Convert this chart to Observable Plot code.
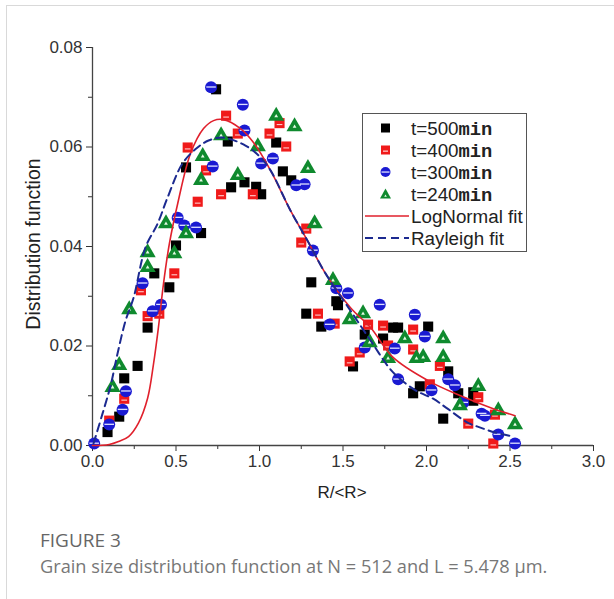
<!DOCTYPE html>
<html><head><meta charset="utf-8">
<script src="https://cdn.jsdelivr.net/npm/d3@7"></script>
<script src="https://cdn.jsdelivr.net/npm/@observablehq/plot@0.6"></script>
<style>
html,body{margin:0;padding:0;background:#fff}
body{width:614px;height:599px;position:relative;overflow:hidden;font-family:"Liberation Sans",Arial,sans-serif}
#frame{position:absolute;left:6px;top:5px;width:640px;height:640px;border-left:1px solid #d9d9d9;border-top:1px solid #d9d9d9}
#chart{position:absolute;left:0;top:0}
#ytitle{position:absolute;left:33px;top:244px;transform:translate(-50%,-50%) rotate(-90deg);font-size:19.5px;color:#222;white-space:nowrap;font-family:"Liberation Sans",Arial,sans-serif}
#xtitle{position:absolute;left:342px;top:493px;transform:translate(-50%,-50%);font-size:17px;color:#222;white-space:nowrap;font-family:"Liberation Sans",Arial,sans-serif}
#legend{position:absolute;left:362px;top:113px;width:165px;height:139px;border:1px solid #555;background:#fff;box-sizing:border-box}
#legend svg{position:absolute;left:0;top:0}
.lt{font-family:"Liberation Sans",Arial,sans-serif;font-size:18.8px;fill:#222}
.mono{font-family:"Liberation Mono","Courier New",monospace;font-weight:bold}
#cap1{position:absolute;left:40px;top:527px;font-family:"Open Sans",sans-serif;font-size:19px;color:#666}
#cap2{position:absolute;left:40px;top:554px;font-family:"Open Sans",sans-serif;font-size:18.2px;color:#777;white-space:nowrap}
</style></head>
<body>
<div id="frame"></div>
<div id="chart"></div>
<div id="ytitle">Distribution function</div>
<div id="xtitle">R/&lt;R&gt;</div>
<div id="legend"></div>
<div id="cap1">FIGURE 3</div>
<div id="cap2">Grain size distribution function at N = 512 and L = 5.478 µm.</div>
<script>
const xTicks = [0, 0.5, 1.0, 1.5, 2.0, 2.5, 3.0];
const xMinor = [0.25, 0.75, 1.25, 1.75, 2.25, 2.75];
const yTicks = [0, 0.02, 0.04, 0.06, 0.08];
const yMinor = [0.01, 0.03, 0.05, 0.07];

const seriesNames = ["t=500", "t=400", "t=300", "t=240"];

const t500 = [[0.09,0.0027],[0.16,0.0058],[0.19,0.0135],[0.27,0.016],[0.33,0.0237],[0.37,0.0346],[0.46,0.0318],[0.50,0.0402],[0.56,0.0559],[0.65,0.0427],[0.74,0.0716],[0.81,0.0611],[0.83,0.0519],[0.91,0.0529],[0.98,0.052],[1.01,0.0505],[1.10,0.0609],[1.14,0.0551],[1.19,0.0533],[1.31,0.0328],[1.46,0.029],[1.47,0.0282],[1.28,0.0265],[1.37,0.0239],[1.56,0.0159],[1.63,0.0223],[1.74,0.0215],[1.80,0.0237],[1.83,0.0237],[2.01,0.0239],[2.13,0.0149],[2.19,0.0105],[1.96,0.0119],[1.92,0.0105],[2.10,0.0054],[2.28,0.0107],[2.28,0.009]];

const t400 = [[0.10,0.005],[0.19,0.0094],[0.29,0.0312],[0.33,0.026],[0.40,0.0265],[0.49,0.0346],[0.57,0.0599],[0.63,0.049],[0.68,0.0553],[0.77,0.0505],[0.80,0.0663],[0.87,0.0627],[0.96,0.0505],[1.06,0.0627],[1.12,0.0648],[1.16,0.0601],[1.25,0.0408],[1.28,0.0436],[1.35,0.0265],[1.45,0.0245],[1.54,0.0169],[1.60,0.0187],[1.65,0.0243],[1.74,0.0241],[1.77,0.0201],[1.92,0.0233],[1.92,0.0193],[2.02,0.0123],[2.08,0.016],[2.25,0.0044],[2.31,0.0097],[2.41,0.0062],[2.40,0.0004]];

const t300 = [[0.01,0.0004],[0.10,0.0042],[0.18,0.0072],[0.20,0.0109],[0.30,0.0326],[0.36,0.027],[0.41,0.0283],[0.51,0.0458],[0.55,0.0442],[0.62,0.0438],[0.71,0.0720],[0.72,0.0561],[0.90,0.0685],[0.91,0.0633],[1.01,0.0567],[1.08,0.0577],[1.22,0.0523],[1.27,0.0525],[1.32,0.0392],[1.42,0.0243],[1.46,0.0316],[1.53,0.0306],[1.63,0.0197],[1.72,0.0283],[1.81,0.0195],[1.83,0.0133],[1.93,0.0263],[1.99,0.0219],[2.03,0.0111],[2.13,0.0133],[2.17,0.0121],[2.22,0.0086],[2.33,0.0064],[2.35,0.006],[2.43,0.0022],[2.53,0.0004]];

const t240 = [[0.12,0.0117],[0.16,0.0161],[0.22,0.0273],[0.33,0.0358],[0.33,0.0388],[0.44,0.0446],[0.49,0.0386],[0.56,0.0426],[0.65,0.0533],[0.66,0.0581],[0.77,0.0623],[0.87,0.0543],[0.99,0.0601],[1.10,0.0662],[1.21,0.0641],[1.29,0.0557],[1.33,0.0446],[1.44,0.0332],[1.54,0.0253],[1.62,0.0265],[1.66,0.0207],[1.77,0.0175],[1.87,0.0215],[1.94,0.0175],[1.98,0.0177],[2.10,0.0215],[2.10,0.0177],[2.20,0.008],[2.31,0.0119],[2.43,0.007],[2.53,0.0042]];

const logNormalFit = [[0,0],[0.10,0.0002],[0.156,0.0008],[0.216,0.0018],[0.275,0.0045],[0.33,0.0095],[0.365,0.0163],[0.395,0.0238],[0.425,0.0325],[0.46,0.0405],[0.51,0.0486],[0.587,0.0587],[0.665,0.0637],[0.725,0.0653],[0.784,0.0655],[0.886,0.0637],[0.964,0.0609],[1.066,0.0553],[1.186,0.0472],[1.287,0.0412],[1.395,0.0346],[1.545,0.0277],[1.665,0.0237],[1.80,0.0177],[2.006,0.0131],[2.204,0.010],[2.40,0.0074],[2.53,0.006]];

const rayleighFit = [[0.006,0.0004],[0.06,0.0064],[0.108,0.012],[0.15,0.0185],[0.198,0.0251],[0.246,0.0297],[0.317,0.0398],[0.39,0.0446],[0.449,0.0498],[0.539,0.0567],[0.629,0.0599],[0.695,0.0613],[0.778,0.0619],[0.916,0.0603],[1.006,0.0579],[1.066,0.0553],[1.186,0.0472],[1.287,0.0412],[1.395,0.0346],[1.545,0.0271],[1.665,0.0211],[1.80,0.0147],[1.934,0.0111],[2.04,0.0094],[2.126,0.0074],[2.246,0.0046],[2.323,0.0036],[2.413,0.0026],[2.52,0.0018]];

const C = {black:"#000000", red:"#f01a1a", blue:"#1a1ad2", green:"#0f8a2e", logn:"#e0202c", ray:"#1c2a90"};

const bar = (wf, hf, dy) => ({draw(ctx, size){const r = Math.sqrt(size/Math.PI); ctx.rect(-r*wf, -r*hf + r*dy, 2*r*wf, 2*r*hf);}});
const X = d => d[0], Y = d => d[1];

const chart = Plot.plot({
  width: 614, height: 510,
  marginLeft: 92, marginRight: 21, marginTop: 47, marginBottom: 65,
  x: {domain: [0, 3]},
  y: {domain: [0, 0.08]},
  style: {fontFamily: '"Liberation Sans", Arial, sans-serif', fontSize: "17px", color: "#333", background: "transparent", overflow: "visible"},
  marks: [
    Plot.axisX(xTicks, {tickSize: 6, tickPadding: 3, tickFormat: d3.format(".1f"), label: null}),
    Plot.axisX(xMinor, {tickSize: 4, tickFormat: () => "", label: null}),
    Plot.axisY(yTicks, {tickSize: 6, tickPadding: 4, tickFormat: d3.format(".2f"), label: null}),
    Plot.axisY(yMinor, {tickSize: 4, tickFormat: () => "", label: null}),
    Plot.ruleY([0], {stroke: "#444", strokeWidth: 1.3}),
    Plot.ruleX([0], {stroke: "#444", strokeWidth: 1.3}),
    Plot.dot(t500, {x: X, y: Y, symbol: "square", r: 5.7, fill: C.black, stroke: "none"}),
    Plot.dot(t400, {x: X, y: Y, symbol: "square", r: 5.7, fill: C.red, stroke: "none"}),
    Plot.dot(t400, {x: X, y: Y, symbol: bar(0.5, 0.1, 0.25), r: 5.7, fill: "#ffc8c8", stroke: "none"}),
    Plot.dot(t300, {x: X, y: Y, symbol: "circle", r: 6, fill: C.blue, stroke: "none"}),
    Plot.dot(t300, {x: X, y: Y, symbol: bar(0.8, 0.11, -0.05), r: 6, fill: "#dde0ff", stroke: "none"}),
    Plot.dot(t240, {x: X, y: Y, symbol: "triangle", r: 6, fill: C.green, stroke: "none"}),
    Plot.dot(t240, {x: X, y: Y, symbol: "triangle", r: 1.4, fill: "#e6fbe6", stroke: "none"}),
    Plot.line(logNormalFit, {x: X, y: Y, stroke: C.logn, strokeWidth: 1.6, curve: "catmull-rom"}),
    Plot.line(rayleighFit, {x: X, y: Y, stroke: C.ray, strokeWidth: 2, strokeDasharray: "8,5", curve: "catmull-rom"})
  ]
});
document.getElementById("chart").appendChild(chart);

// legend
const rowY = [14, 36, 58, 80, 102, 124];
const lg = [];
const mk = [
  `<rect x="18" y="${rowY[0]-4.5}" width="9" height="9" fill="${C.black}"/>`,
  `<rect x="18" y="${rowY[1]-4.5}" width="9" height="9" fill="${C.red}"/><rect x="20" y="${rowY[1]+0.5}" width="5" height="1.3" fill="#ffc8c8"/>`,
  `<circle cx="22.5" cy="${rowY[2]}" r="5" fill="${C.blue}"/><rect x="18.5" y="${rowY[2]-0.6}" width="8" height="1.3" fill="#dde0ff"/>`,
  `<path d="M22.5,${rowY[3]-5.5} L28,${rowY[3]+4.5} L17,${rowY[3]+4.5} Z" fill="${C.green}"/><path d="M22.5,${rowY[3]+0.5} L23.8,${rowY[3]+2.8} L21.2,${rowY[3]+2.8} Z" fill="#e6fbe6"/>`
];
seriesNames.forEach((s, i) => {
  lg.push(mk[i]);
  lg.push(`<text class="lt" x="48" y="${rowY[i]+6.5}">${s}<tspan class="mono">min</tspan></text>`);
});
lg.push(`<line x1="2" x2="46" y1="${rowY[4]}" y2="${rowY[4]}" stroke="${C.logn}" stroke-width="1.6"/>`);
lg.push(`<text class="lt" x="48" y="${rowY[4]+6.5}">LogNormal fit</text>`);
lg.push(`<line x1="2" x2="46" y1="${rowY[5]}" y2="${rowY[5]}" stroke="${C.ray}" stroke-width="2" stroke-dasharray="8,5"/>`);
lg.push(`<text class="lt" x="48" y="${rowY[5]+6.5}">Rayleigh fit</text>`);
document.getElementById("legend").innerHTML = `<svg width="165" height="139">${lg.join("")}</svg>`;
</script>
</body></html>
